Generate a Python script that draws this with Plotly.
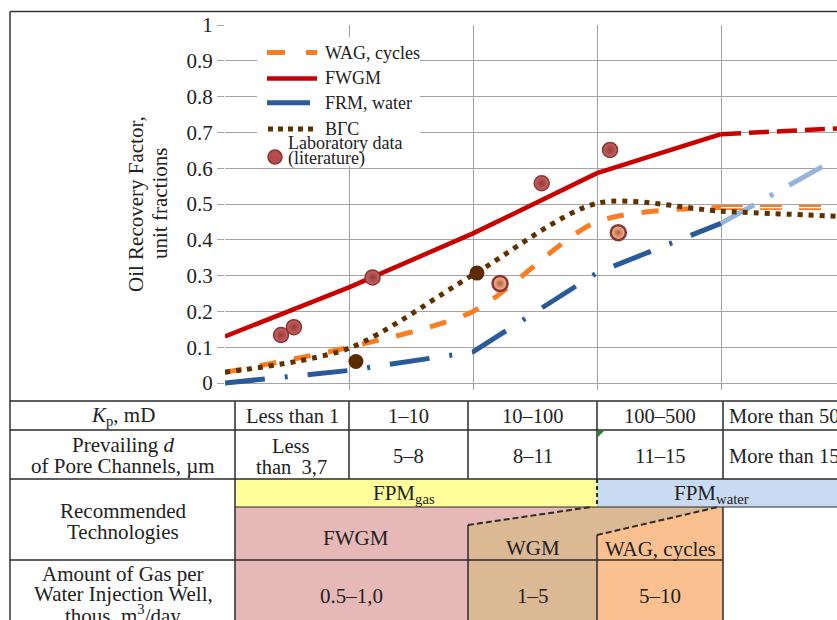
import plotly.graph_objects as go

W, H = 837, 620
SERIF = "Liberation Serif, Times New Roman, serif"

# ---------------- data ----------------
x_nodes = [0, 1, 2, 3, 4]            # boundaries between permeability classes
x_ext = [4, 5]                        # extrapolated part
fwgm = [0.13, 0.267, 0.418, 0.586, 0.695]
fwgm_ext = [0.695, 0.712]
wag = [0.03, 0.10, 0.20, 0.45, 0.49]
wag_ext = [0.49, 0.49]
frm = [0.0, 0.035, 0.087, 0.308, 0.446]
frm_ext = [0.446, 0.64]
vgs_x = [0, 1, 2, 3, 4, 5]
vgs = [0.03, 0.097, 0.302, 0.502, 0.48, 0.465]

lab_x = [0.452, 0.556, 1.19, 2.554, 3.105]
lab_y = [0.134, 0.156, 0.295, 0.558, 0.651]
lab2_x = [2.218, 3.172]
lab2_y = [0.278, 0.42]
vgs_pts_x = [1.056, 2.032]
vgs_pts_y = [0.06, 0.307]

y_ticks = [0, 0.1, 0.2, 0.3, 0.4, 0.5, 0.6, 0.7, 0.8, 0.9, 1]
y_ticktext = ["0", "0.1", "0.2", "0.3", "0.4", "0.5", "0.6", "0.7", "0.8", "0.9", "1"]

kp_classes = ["Less than 1", "1–10", "10–100", "100–500", "More than 500"]
pore_d = ["5–8", "8–11", "11–15", "More than 15"]
gas_amounts = ["0.5–1,0", "1–5", "5–10"]
legend_names = ["WAG, cycles", "FWGM", "FRM, water", "ВГС"]

# ---------------- colors ----------------
RED = "#c80000"
ORANGE = "#fb7d22"
BLUE = "#2a5a98"
BLUE_L = "#9ab3da"
BROWN = "#5e3100"
LINEC = "#2b2b2b"
TXT = "#222222"
TFS = 21  # table font size

# ---------------- geometry helpers (pixel -> paper) ----------------
def X(p):
    return p / W

def Y(p):
    return 1 - p / H

Y0_PX, Y1_PX = 383.0, 25.0
Y_LO = -0.02
PX_PER_UNIT = (Y0_PX - Y1_PX)
ybot_px = Y0_PX - Y_LO * PX_PER_UNIT
X_AXIS_PX = 225.0
COL_PX = 124.0

fig = go.Figure()

fig.add_trace(go.Scatter(x=x_nodes, y=frm, mode="lines",
                         line=dict(color=BLUE, width=5, dash="40px,20px,3px,20px")))
fig.add_trace(go.Scatter(x=x_ext, y=frm_ext, mode="lines",
                         line=dict(color=BLUE_L, width=5, dash="38px,18px,4px,18px")))
fig.add_trace(go.Scatter(x=x_nodes, y=wag, mode="lines",
                         line=dict(color=ORANGE, width=5, dash="17px,18px", shape="spline", smoothing=0.8)))
fig.add_trace(go.Scatter(x=x_ext, y=wag_ext, mode="lines",
                         line=dict(color=ORANGE, width=5, dash="22px,17px")))
fig.add_trace(go.Scatter(x=x_ext, y=wag_ext, mode="lines",
                         line=dict(color="#ffffff", width=1.3, dash="22px,17px")))
fig.add_trace(go.Scatter(x=vgs_x, y=vgs, mode="lines",
                         line=dict(color=BROWN, width=5, dash="5px,6px", shape="spline", smoothing=0.8)))
fig.add_trace(go.Scatter(x=x_nodes, y=fwgm, mode="lines",
                         line=dict(color=RED, width=4.5)))
fig.add_trace(go.Scatter(x=x_ext, y=fwgm_ext, mode="lines",
                         line=dict(color=RED, width=4.5, dash="20px,8px")))

fig.add_trace(go.Scatter(x=lab_x, y=lab_y, mode="markers",
                         marker=dict(size=15, color="#c96464",
                                     gradient=dict(type="radial", color="#953a3a"),
                                     line=dict(color="#8a3434", width=1.5))))
fig.add_trace(go.Scatter(x=lab2_x, y=lab2_y, mode="markers",
                         marker=dict(size=15, color="#ffc98f",
                                     gradient=dict(type="radial", color="#b45a4a"),
                                     line=dict(color="#8a3434", width=2.5))))
fig.add_trace(go.Scatter(x=vgs_pts_x, y=vgs_pts_y, mode="markers",
                         marker=dict(size=15, color="#5a2c00")))

fig.update_xaxes(domain=[X(X_AXIS_PX), 1], range=[0, (W - X_AXIS_PX) / COL_PX],
                 showgrid=True, gridcolor="#a3a3a3", gridwidth=1.3, dtick=1, tick0=0,
                 showticklabels=False, zeroline=False, showline=False, ticks="")
fig.update_yaxes(domain=[Y(ybot_px), Y(Y1_PX)], range=[Y_LO, 1.0],
                 tickvals=y_ticks, ticktext=y_ticktext,
                 showgrid=True, gridcolor="#a3a3a3", gridwidth=1.3,
                 ticks="outside", ticklen=7, tickcolor="#a3a3a3", tickwidth=1.3,
                 tickfont=dict(family=SERIF, size=21, color=TXT),
                 zeroline=False, showline=False, automargin=False)

shapes = []
annots = []

def line(x0, y0, x1, y1, color=LINEC, width=1.5, dash=None, layer="above"):
    d = dict(type="line", xref="paper", yref="paper", x0=X(x0), y0=Y(y0), x1=X(x1), y1=Y(y1),
             line=dict(color=color, width=width), layer=layer)
    if dash:
        d["line"]["dash"] = dash
    shapes.append(d)

def rect(x0, y0, x1, y1, fill, layer="above"):
    shapes.append(dict(type="rect", xref="paper", yref="paper", x0=X(x0), y0=Y(y0), x1=X(x1), y1=Y(y1),
                       fillcolor=fill, line=dict(width=0), layer=layer))

def poly(pts, fill):
    path = "M " + " L ".join(f"{X(a):.5f},{Y(b):.5f}" for a, b in pts) + " Z"
    shapes.append(dict(type="path", xref="paper", yref="paper", path=path,
                       fillcolor=fill, line=dict(width=0), layer="above"))

def text(t, x, y, size=TFS, anchor="center", color=TXT, angle=0):
    annots.append(dict(text=t, x=X(x), y=Y(y), xref="paper", yref="paper", showarrow=False,
                       xanchor=anchor, yanchor="middle", textangle=angle,
                       font=dict(family=SERIF, size=size, color=color)))

# outer frame
line(10, 11.5, W, 11.5, color="#333", width=1.5)
line(10, 11.5, 10, H, color="#333", width=1.5)

# legend box
rect(257, 37, 420, 166, "#ffffff")
line(267, 52.5, 285, 52.5, color=ORANGE, width=5)
line(306, 52.5, 317, 52.5, color=ORANGE, width=5)
line(267, 78.5, 317, 78.5, color=RED, width=4.5)
line(267, 102.7, 310, 102.7, color=BLUE, width=5)
line(268, 129, 317, 129, color=BROWN, width=5, dash="5px,5px")
shapes.append(dict(type="circle", xref="paper", yref="paper", x0=X(268), x1=X(282), y0=Y(150), y1=Y(164),
                   fillcolor="#b54c4c", line=dict(color="#8a3434", width=1.5), layer="above"))
leg_y = [52.5, 78.5, 103, 129]
for nm, yy in zip(legend_names, leg_y):
    text(nm, 323, yy, size=18, anchor="left")
text("Laboratory data", 286, 143, size=18, anchor="left")
text("(literature)", 286, 158, size=18, anchor="left")

# y axis title (two rotated lines)
text("Oil Recovery Factor,", 136, 204, size=21, angle=-90)
text("unit fractions", 160, 204, size=21, angle=-90)

# ---------------- table ----------------
R0, R1, R2, BAND, R3, R4 = 401, 430, 479, 507, 560, H
C0, C1, C2, C3, C4, C5 = 10, 235, 349, 468, 597, 723

# fills
rect(C1, R2, C4, BAND, "#ffff9c")
rect(C4, R2, W, BAND, "#c8dbf2")
rect(C1, BAND, C5, R4, "#e6b9b8")
poly([(C3, 525), (C4 - 6, BAND), (C5, BAND), (C5, R4), (C3, R4)], "#dcb995")
poly([(C4, 535), (C5 - 5, BAND), (C5, BAND), (C5, R4), (C4, R4)], "#fbc08f")

# horizontal lines
line(C0, R0, W, R0)
line(C0, R1, W, R1)
line(C0, R2, W, R2)
line(C1, BAND, W, BAND, width=1)
line(C0, R3, C5, R3)
# vertical lines
line(C1, R0, C1, R4)
for cx in (C2, C3, C4, C5):
    line(cx, R0, cx, R2)
line(C4, R2, C4, BAND, dash="4px,3px", width=2)
line(C3, 525, C3, R4)
line(C4, 535, C4, R4)
line(C5, BAND, C5, R4)
# slanted dashed boundaries
line(C3, 525, C4 - 6, BAND, dash="6px,3px", width=2)
line(C4, 535, C5 - 5, BAND, dash="6px,3px", width=2)
# small green corner mark
shapes.append(dict(type="path", xref="paper", yref="paper",
                   path=f"M {X(598):.5f},{Y(431):.5f} L {X(604):.5f},{Y(431):.5f} L {X(598):.5f},{Y(437):.5f} Z",
                   fillcolor="#1d8a1d", line=dict(width=0), layer="above"))

# row 1
text("<i>K</i><sub>p</sub>, mD", 123, 415.5)
col_centers = [292, 408.5, 532.5, 660]
for t, cx in zip(kp_classes[:4], col_centers):
    text(t, cx, 415.5, size=20.5)
text(kp_classes[4], 727, 415.5, anchor="left", size=20.5)
# row 2
text("Prevailing <i>d</i>", 123, 445)
text("of Pore Channels, µm", 123, 466)
text("Less", 291, 446, size=20.5)
text("than  3,7", 291, 467, size=20.5)
for t, cx in zip(pore_d[:3], col_centers[1:]):
    text(t, cx, 456, size=20.5)
text(pore_d[3], 727, 456, anchor="left", size=20.5)
# row 3
text("Recommended", 123, 511)
text("Technologies", 123, 532)
text("FPM<sub>gas</sub>", 404, 494)
text("FPM<sub>water</sub>", 711, 494)
text("FWGM", 356, 538)
text("WGM", 533, 548)
text("WAG, cycles", 660, 549)
# row 4
text("Amount of Gas per", 123, 574)
text("Water Injection Well,", 123, 594)
text("thous. m<sup>3</sup>/day", 123, 614)
for t, cx in zip(gas_amounts, [351, 533, 660]):
    text(t, cx, 596)

fig.update_layout(width=W, height=H, margin=dict(l=0, r=0, t=0, b=0),
                  paper_bgcolor="white", plot_bgcolor="white", showlegend=False,
                  shapes=shapes, annotations=annots,
                  font=dict(family=SERIF, size=20, color=TXT))

fig.write_html("out.html", config={"displayModeBar": False},
               post_script="document.body.style.margin='0px';")
